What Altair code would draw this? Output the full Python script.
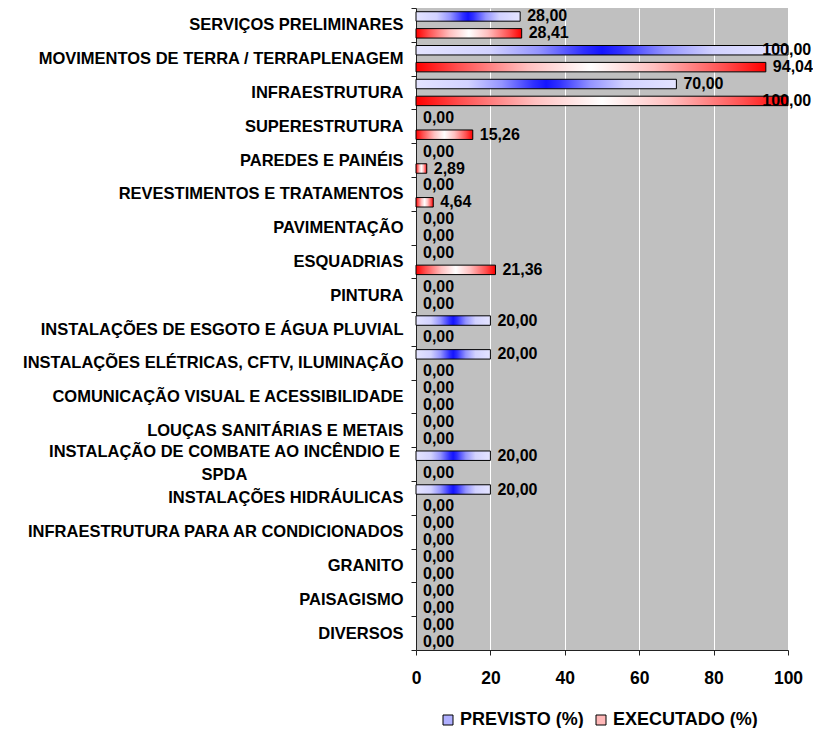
import altair as alt
import pandas as pd

categories = [
    "SERVIÇOS PRELIMINARES",
    "MOVIMENTOS DE TERRA / TERRAPLENAGEM",
    "INFRAESTRUTURA",
    "SUPERESTRUTURA",
    "PAREDES E PAINÉIS",
    "REVESTIMENTOS E TRATAMENTOS",
    "PAVIMENTAÇÃO",
    "ESQUADRIAS",
    "PINTURA",
    "INSTALAÇÕES DE ESGOTO E ÁGUA PLUVIAL",
    "INSTALAÇÕES ELÉTRICAS, CFTV, ILUMINAÇÃO",
    "COMUNICAÇÃO VISUAL E ACESSIBILIDADE",
    "LOUÇAS SANITÁRIAS E METAIS",
    "INSTALAÇÃO DE COMBATE AO INCÊNDIO E SPDA",
    "INSTALAÇÕES HIDRÁULICAS",
    "INFRAESTRUTURA PARA AR CONDICIONADOS",
    "GRANITO",
    "PAISAGISMO",
    "DIVERSOS",
]
previsto = [28.00, 100.00, 70.00, 0, 0, 0, 0, 0, 0, 20.00, 20.00, 0, 0, 20.00, 20.00, 0, 0, 0, 0]
executado = [28.41, 94.04, 100.00, 15.26, 2.89, 4.64, 0, 21.36, 0, 0, 0, 0, 0, 0, 0, 0, 0, 0, 0]
series = ["PREVISTO (%)", "EXECUTADO (%)"]

rows = []
for c, p, e in zip(categories, previsto, executado):
    rows.append({"cat": c, "series": series[0], "value": p})
    rows.append({"cat": c, "series": series[1], "value": e})
df = pd.DataFrame(rows)

FONT = "Liberation Sans"
SPLIT = "INSTALAÇÃO DE COMBATE AO INCÊNDIO E SPDA"
IS_SPLIT = f"datum.value == '{SPLIT}'"

blue_grad = alt.LinearGradient(
    gradient="linear", x1=0, x2=1, y1=0, y2=0,
    stops=[
        alt.GradientStop(color="#e4e4ff", offset=0),
        alt.GradientStop(color="#d2d2ff", offset=0.2),
        alt.GradientStop(color="#9494ff", offset=0.33),
        alt.GradientStop(color="#3030ff", offset=0.45),
        alt.GradientStop(color="#1414ff", offset=0.5),
        alt.GradientStop(color="#3030ff", offset=0.55),
        alt.GradientStop(color="#9494ff", offset=0.67),
        alt.GradientStop(color="#d2d2ff", offset=0.8),
        alt.GradientStop(color="#e4e4ff", offset=1),
    ],
)
red_grad = alt.LinearGradient(
    gradient="linear", x1=0, x2=1, y1=0, y2=0,
    stops=[
        alt.GradientStop(color="#ff0000", offset=0),
        alt.GradientStop(color="#ff5050", offset=0.12),
        alt.GradientStop(color="#ffc0c0", offset=0.32),
        alt.GradientStop(color="#ffffff", offset=0.5),
        alt.GradientStop(color="#ffc0c0", offset=0.68),
        alt.GradientStop(color="#ff5050", offset=0.88),
        alt.GradientStop(color="#ff0000", offset=1),
    ],
)

y_enc = alt.Y(
    "cat:N",
    sort=categories,
    scale=alt.Scale(domain=categories, paddingInner=0, paddingOuter=0),
    title=None,
    axis=alt.Axis(
        labelFont=FONT,
        labelFontSize=16.5,
        labelFontWeight="bold",
        labelColor="black",
        labelLimit=500,
        labelPadding={"condition": {"test": IS_SPLIT, "value": 187}, "value": 8},
        labelAlign={"condition": {"test": IS_SPLIT, "value": "center"}, "value": "right"},
        labelOffset={"condition": {"test": IS_SPLIT, "value": -13}, "value": 0},
        labelExpr=f"{IS_SPLIT} ? ['INSTALAÇÃO DE COMBATE AO INCÊNDIO E', 'SPDA'] : datum.label",
        labelLineHeight=23,
        tickBand="extent",
        tickSize=5,
        tickColor="#222222",
        domainColor="#222222",
        grid=False,
    ),
)
yoff = alt.YOffset(
    "series:N",
    scale=alt.Scale(domain=series, paddingInner=0.44, paddingOuter=0.22),
)
x_enc = alt.X(
    "value:Q",
    scale=alt.Scale(domain=[0, 100], nice=False),
    title=None,
    axis=alt.Axis(
        values=[0, 20, 40, 60, 80, 100],
        labelFont=FONT,
        labelFontSize=17.5,
        labelFontWeight="bold",
        labelColor="black",
        labelPadding=14,
        tickSize=5,
        tickColor="#222222",
        domainColor="#222222",
        grid=True,
        gridColor="white",
        gridWidth=1,
        labelFlush=False,
    ),
)

base = alt.Chart(df)

bars_prev = base.transform_filter(
    f"datum.series == '{series[0]}' && datum.value > 0"
).mark_bar(fill=blue_grad, stroke="black", strokeWidth=1).encode(x=x_enc, y=y_enc, yOffset=yoff)

bars_exec = base.transform_filter(
    f"datum.series == '{series[1]}' && datum.value > 0"
).mark_bar(fill=red_grad, stroke="black", strokeWidth=1).encode(x=x_enc, y=y_enc, yOffset=yoff)

labels = base.transform_calculate(
    lx="datum.value >= 99.5 ? 91.2 : datum.value",
    txt="replace(format(datum.value, '.2f'), '.', ',')",
).mark_text(
    align="left", baseline="middle", dx=7, font=FONT, fontSize=16, fontWeight="bold", color="black"
).encode(
    x=alt.X("lx:Q", scale=alt.Scale(domain=[0, 100], nice=False)),
    y=y_enc,
    yOffset=yoff,
    text="txt:N",
)

legend_layer = base.mark_square(opacity=0).encode(
    x=alt.X("value:Q"),
    y=y_enc,
    color=alt.Color(
        "series:N",
        scale=alt.Scale(domain=series, range=["#b0b0ff", "#ffb8b8"]),
        legend=alt.Legend(
            title=None,
            orient="none",
            direction="horizontal",
            legendX=23,
            legendY=703,
            padding=0,
            symbolType="square",
            symbolSize=100,
            symbolOpacity=1,
            symbolStrokeColor="black",
            symbolStrokeWidth=1,
            labelFont=FONT,
            labelFontSize=18,
            labelFontWeight="bold",
            labelColor="black",
            labelOffset=3,
            columnPadding=8,
            labelLimit=300,
        ),
    ),
)

chart = alt.layer(bars_prev, bars_exec, labels, legend_layer).properties(
    width=372,
    height=642,
    background="white",
    autosize=alt.AutoSizeParams(type="none"),
    padding={"left": 408, "top": 0, "right": 25, "bottom": 78},
).configure_view(
    fill="#c0c0c0", stroke=None
)

chart.save("out.html", embed_options={"renderer": "svg", "actions": False})
